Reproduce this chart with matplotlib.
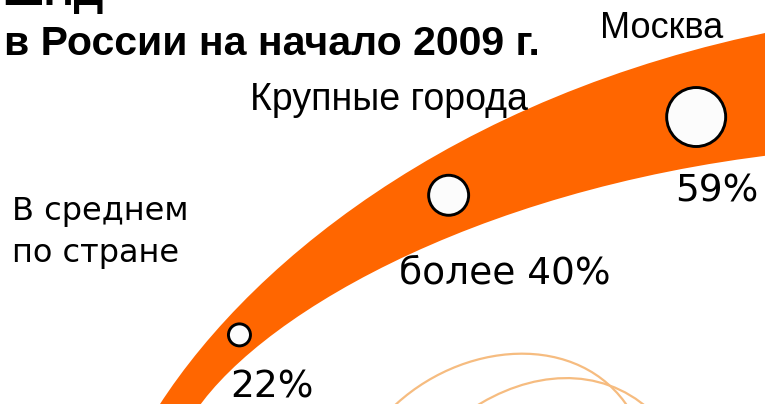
import matplotlib
matplotlib.use("Agg")
import matplotlib.pyplot as plt
import numpy as np
from matplotlib.path import Path
from matplotlib.patches import PathPatch, Circle

# ---- data ----
categories = ["В среднем\nпо стране", "Крупные города", "Москва"]
values = [22, 40, 59]
value_labels = ["22%", "более 40%", "59%"]
title_lines = ["ШПД", "в России на начало 2009 г."]

# ---- layout / style ----
W, H = 765, 404
ORANGE = "#FF6600"
FAINT = "#F6BC80"
marker_t = [0.22, 0.60, 0.91]
marker_dy = [0, 2, 9]
# (x, baseline y, ha, fontsize)
cat_pos = [(12, 220, "left", 23), (250, 110, "left", 27), (600, 38, "left", 26)]
val_pos = [(230, 398, "left"), (399, 283, "left"), (675, 202, "left")]
cat_fonts = ["tahoma", "narrow", "narrow"]

fig = plt.figure(figsize=(W / 100, H / 100), dpi=100)
ax = fig.add_axes([0, 0, 1, 1])
ax.set_xlim(0, W)
ax.set_ylim(H, 0)
ax.axis("off")

def bez(p, t):
    p = np.asarray(p, float)
    t = np.asarray(t, float)[..., None]
    return ((1 - t) ** 3 * p[0] + 3 * (1 - t) ** 2 * t * p[1]
            + 3 * (1 - t) * t ** 2 * p[2] + t ** 3 * p[3])

outer = [(150, 420), (240, 270), (450, 95), (780, 30)]
inner = [(190, 420), (250, 320), (470, 190), (780, 154)]
center = [((a[0] + b[0]) / 2, (a[1] + b[1]) / 2) for a, b in zip(outer, inner)]

# band
verts = outer + [inner[3], inner[2], inner[1], inner[0], outer[0]]
codes = ([Path.MOVETO, Path.CURVE4, Path.CURVE4, Path.CURVE4, Path.LINETO,
          Path.CURVE4, Path.CURVE4, Path.CURVE4, Path.CLOSEPOLY])
ax.add_patch(PathPatch(Path(verts, codes), facecolor=ORANGE, edgecolor="none", zorder=2))

# faint decorative arcs
for pts in ([(390, 410), (460, 340), (580, 330), (630, 410)],
            [(470, 410), (530, 370), (600, 365), (650, 410)]):
    ax.add_patch(PathPatch(Path(pts, [Path.MOVETO, Path.CURVE4, Path.CURVE4, Path.CURVE4]),
                           facecolor="none", edgecolor=FAINT, lw=1.6, zorder=1))

# markers: radius proportional to value
for t, dy, v in zip(marker_t, marker_dy, values):
    cx, cy = bez(center, t)
    ax.add_patch(Circle((cx, cy + dy), radius=v * 0.5, facecolor="#FCFCFC",
                        edgecolor="black", lw=2.1, zorder=3))

TAHOMA = ["DejaVu Sans"]
NARROW = ["Liberation Sans", "DejaVu Sans"]

for (x, y, ha, fs), cat, f in zip(cat_pos, categories, cat_fonts):
    fam = TAHOMA if f == "tahoma" else NARROW
    for i, line in enumerate(cat.split("\n")):
        ax.text(x, y + i * 42, line, ha=ha, va="baseline", fontsize=fs,
                family=fam, color="black", zorder=4)

for (x, y, ha), lab in zip(val_pos, value_labels):
    ax.text(x, y, lab, ha=ha, va="baseline", fontsize=27, family=TAHOMA,
            color="black", zorder=4)

ax.text(2, 5, title_lines[0], ha="left", va="baseline", fontsize=30,
        family=NARROW, weight="bold", zorder=4)
ax.text(4, 55, title_lines[1], ha="left", va="baseline", fontsize=29.5,
        family=NARROW, weight="bold", zorder=4)

fig.savefig("out.png", dpi=100)
